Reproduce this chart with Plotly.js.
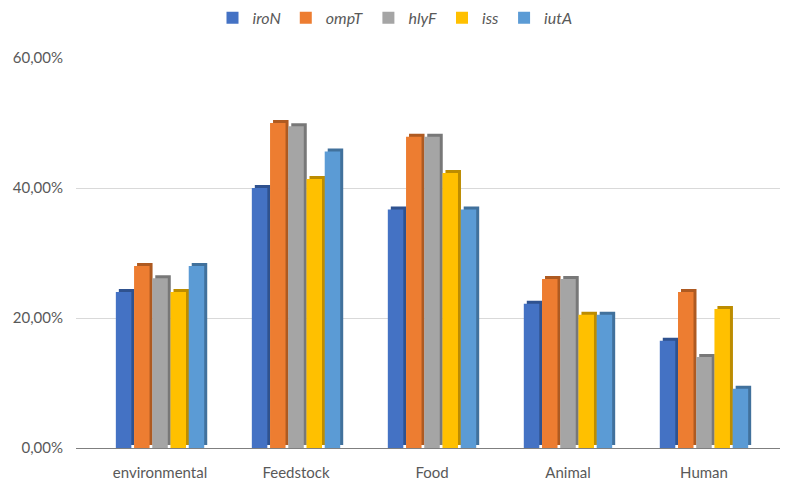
<!DOCTYPE html>
<html>
<head>
<meta charset="utf-8">
<script src="https://cdn.plot.ly/plotly-3.0.1.min.js"></script>
<style>html,body{margin:0;padding:0;background:#fff;}#chart{width:790px;height:482px;}</style>
</head>
<body>
<div id="chart"></div>
<script>
const categories = ["environmental", "Feedstock", "Food", "Animal", "Human"];
const seriesNames = ["iroN", "ompT", "hlyF", "iss", "iutA"];
const iroN = [0.240, 0.400, 0.367, 0.222, 0.165];
const ompT = [0.280, 0.500, 0.479, 0.260, 0.240];
const hlyF = [0.261, 0.495, 0.479, 0.260, 0.140];
const iss  = [0.240, 0.414, 0.423, 0.205, 0.214];
const iutA = [0.280, 0.456, 0.367, 0.205, 0.091];
const colors = ["#4472C4", "#ED7D31", "#A5A5A5", "#FFC000", "#5B9BD5"];
const sideColors = ["#2F528F", "#AE5A21", "#787878", "#BC8C00", "#41719C"];
const yTicks = [0, 0.2, 0.4, 0.6];

const values = [iroN, ompT, hlyF, iss, iutA];

// geometry (category units / y units) for a pseudo-3D look
const pitch = 0.134, faceW = 0.114, depthX = 0.022, depthY = 0.0046;

const shadows = seriesNames.map((n, i) => ({
  type: "bar",
  name: n + " side",
  x: categories,
  y: values[i],
  base: depthY,
  offset: (i - 2) * pitch - faceW / 2 + depthX,
  width: faceW,
  marker: {color: sideColors[i], line: {width: 0}},
  showlegend: false,
  hoverinfo: "skip"
}));

const fronts = seriesNames.map((n, i) => ({
  type: "bar",
  name: n,
  x: categories,
  y: values[i],
  offset: (i - 2) * pitch - faceW / 2,
  width: faceW,
  marker: {color: colors[i], line: {width: 0}},
  hoverinfo: "name+y"
}));

const layout = {
  width: 790, height: 482,
  margin: {l: 76, r: 10, t: 58, b: 34, pad: 0, autoexpand: false},
  paper_bgcolor: "#ffffff",
  plot_bgcolor: "#ffffff",
  separators: ",.",
  barmode: "overlay",
  font: {family: "Lato, 'Open Sans', sans-serif", size: 15, color: "#595959"},
  showlegend: true,
  legend: {
    orientation: "h", xref: "container", x: 0.5, xanchor: "center",
    yref: "container", y: 0.963, yanchor: "middle",
    font: {size: 16, style: "italic", color: "#595959"},
    traceorder: "normal", itemwidth: 30
  },
  xaxis: {
    type: "category",
    range: [-0.618, 4.559],
    showgrid: false,
    showline: true, linecolor: "#7f7f7f", linewidth: 1,
    ticks: "", ticklabelstandoff: 11,
    tickfont: {size: 15, color: "#595959"},
    zeroline: false, fixedrange: true
  },
  yaxis: {
    range: [0, 0.6],
    tickvals: yTicks,
    tickformat: ".2%",
    showgrid: true, gridcolor: "#d9d9d9", gridwidth: 1,
    zeroline: false, showline: false,
    ticks: "", ticklabelstandoff: 12,
    tickfont: {size: 15, color: "#595959"},
    fixedrange: true
  }
};

Plotly.newPlot("chart", shadows.concat(fronts), layout, {displayModeBar: false, staticPlot: true});
</script>
</body>
</html>
